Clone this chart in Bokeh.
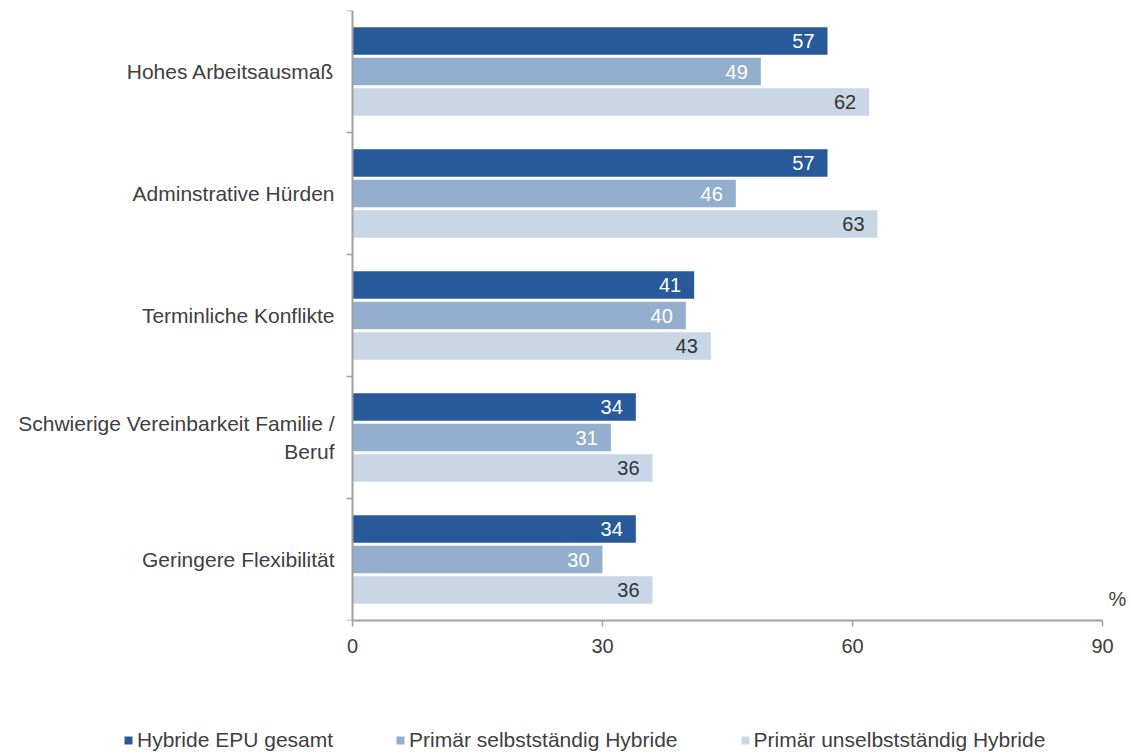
from bokeh.plotting import figure
from bokeh.layouts import column
from bokeh.models import (Range1d, FixedTicker, ColumnDataSource, Legend, LegendItem, Label)
from bokeh.embed import file_html
from bokeh.resources import INLINE
from bokeh.core.properties import value

# ---- data ----
categories = [
    "Hohes Arbeitsausmaß",
    "Adminstrative Hürden",
    "Terminliche Konflikte",
    "Schwierige Vereinbarkeit Familie /\nBeruf",
    "Geringere Flexibilität",
]
series_names = ["Hybride EPU gesamt", "Primär selbstständig Hybride", "Primär unselbstständig Hybride"]
hybride_gesamt = [57, 57, 41, 34, 34]
primaer_selbststaendig = [49, 46, 40, 31, 30]
primaer_unselbststaendig = [62, 63, 43, 36, 36]
x_ticks = [0, 30, 60, 90]
unit_label = "%"

colors = ["#285A9B", "#94AFCD", "#C9D6E5"]
label_colors = ["#FFFFFF", "#FFFFFF", "#333333"]
FONT = "Liberation Sans"
TXT = "#404040"
AX = "#A0A0A0"

n = len(categories)
centers = [n - 0.5 - i for i in range(n)]
dodges = [0.25, 0.0, -0.25]
series = [hybride_gesamt, primaer_selbststaendig, primaer_unselbststaendig]

# frame spans 12..1131 px; the value axis itself covers 0..90 (352..1102 px)
px_per_unit = 750 / 90
frame_left = 12
x_min_view = -(352 - frame_left) / px_per_unit
x_max_view = (1131 - 352) / px_per_unit

p = figure(width=1131, height=680, output_backend="svg", toolbar_location=None,
           x_range=Range1d(x_min_view, x_max_view), y_range=Range1d(0, n),
           min_border_left=frame_left, min_border_right=0, min_border_top=10,
           min_border_bottom=60)
p.outline_line_color = None
p.xgrid.visible = False
p.ygrid.visible = False
p.background_fill_color = "white"
p.border_fill_color = "white"

sources = []
for s, vals in enumerate(series):
    src = ColumnDataSource(dict(y=[c + dodges[s] for c in centers], right=vals,
                                lab=[str(v) for v in vals]))
    sources.append(src)
    p.hbar(y="y", left=0, right="right", height=0.224, source=src,
           fill_color=colors[s], line_color=None)
    p.text(x="right", y="y", text="lab", source=src, x_offset=-13,
           text_align="right", text_baseline="middle", text_color=label_colors[s],
           text_font=value(FONT), text_font_size="20px")

# category labels, right-aligned left of the axis
cat_src = ColumnDataSource(dict(x=[0] * n, y=centers, t=categories))
p.text(x="x", y="y", text="t", source=cat_src, x_offset=-18,
       text_align="right", text_baseline="middle", text_color=TXT,
       text_font=value(FONT), text_font_size="21px", text_line_height=1.2)

# x axis
xa = p.xaxis[0]
xa.ticker = FixedTicker(ticks=x_ticks, minor_ticks=[])
xa.bounds = (0, 90)
xa.axis_line_color = AX
xa.axis_line_width = 2
xa.major_tick_line_color = AX
xa.major_tick_line_width = 1.5
xa.major_tick_out = 6
xa.major_tick_in = 0
xa.minor_tick_line_color = None
xa.major_label_standoff = 12
xa.major_label_text_font = FONT
xa.major_label_text_font_size = "20px"
xa.major_label_text_color = TXT

# y axis at x = 0 with tick marks at category boundaries
ya = p.yaxis[0]
ya.fixed_location = 0
ya.bounds = (0, n)
ya.ticker = FixedTicker(ticks=[], minor_ticks=list(range(n + 1)))
ya.minor_tick_line_color = AX
ya.minor_tick_line_width = 1.5
ya.minor_tick_out = 6
ya.minor_tick_in = 0
ya.major_tick_line_color = None
ya.axis_line_color = AX
ya.axis_line_width = 2
ya.major_label_standoff = 0

p.add_layout(Label(x=90, y=0, x_offset=6, y_offset=22, text=unit_label,
                   text_align="left", text_baseline="middle", text_font=FONT,
                   text_font_size="20px", text_color=TXT))

# ---- legend strip below the chart ----
lg = figure(width=1131, height=74, output_backend="svg", toolbar_location=None,
            x_range=Range1d(-200, -100), y_range=Range1d(-200, -100),
            x_axis_location=None, y_axis_location=None,
            min_border_left=frame_left, min_border_right=0, min_border_top=0, min_border_bottom=0)
lg.outline_line_color = None
lg.xgrid.visible = False
lg.ygrid.visible = False
lg_renderers = []
for s in range(3):
    # same series, drawn outside the visible range: used only as legend keys
    r = lg.hbar(y="y", left=0, right="right", height=0.224, source=sources[s],
                fill_color=colors[s], line_color=None)
    lg_renderers.append(r)

legend = Legend(items=[LegendItem(label=series_names[i], renderers=[lg_renderers[i]]) for i in range(3)],
                orientation="horizontal", location=(123 - frame_left, 2),
                glyph_width=10, glyph_height=10, label_standoff=4, spacing=62,
                padding=0, margin=0, border_line_color=None, background_fill_alpha=0,
                label_text_font=FONT, label_text_font_size="21px", label_text_color=TXT,
                label_height=20)
lg.add_layout(legend, "center")

open("out.html", "w").write(file_html(column(p, lg, spacing=0), INLINE))
